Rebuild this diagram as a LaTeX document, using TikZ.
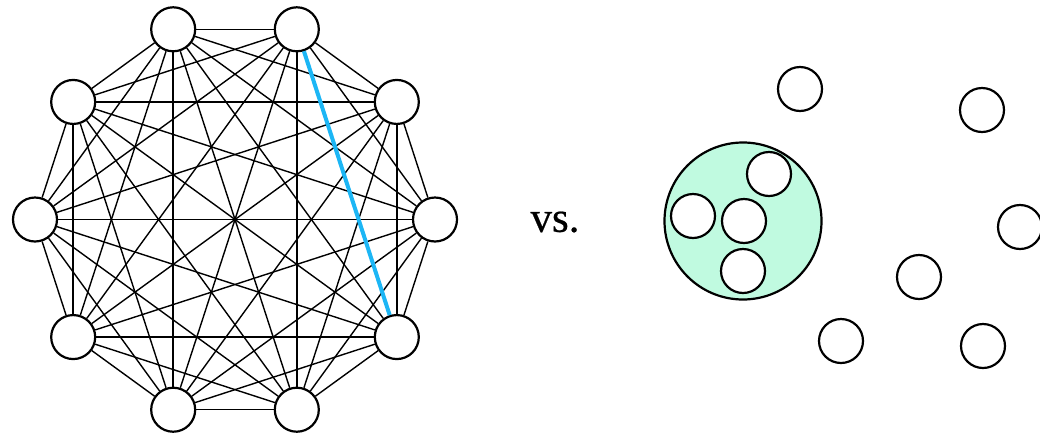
\documentclass[tikz,border=0pt]{standalone}
\usepackage{fontspec}
\setmainfont{Liberation Serif}
\newfontfamily\labelfont[FakeBold=0.5]{Liberation Serif}
\definecolor{mint}{RGB}{192,250,224}
\definecolor{hiblue}{RGB}{28,182,245}
\tikzset{
  vertex/.style={circle, draw=black, line width=2.2pt, fill=white, minimum size=44pt, inner sep=0pt},
  edge/.style={line width=1.4pt, black},
  hiedge/.style={line width=4pt, hiblue},
  cluster/.style={circle, draw=black, line width=2.2pt, fill=mint, minimum size=157pt, inner sep=0pt}
}
\begin{document}
\begin{tikzpicture}[x=1pt,y=-1pt]
  \useasboundingbox (0,0) rectangle (1040,437);

  % complete graph on ten vertices
  \foreach \k in {0,...,9}
    \node[vertex] (n\k) at ({235+200*cos(36*\k)},{219.5-200*sin(36*\k)}) {};
  \foreach \i in {0,...,8}{
    \pgfmathtruncatemacro\s{\i+1}
    \foreach \j in {\s,...,9}
      \draw[edge] (n\i) -- (n\j);
  }
  \draw[hiedge] (n2) -- (n9);

  \node (vs) at (555,222) {\labelfont\fontsize{43}{50}\selectfont vs.};

  % clustered points
  \node[cluster] (c) at (743,221) {};
  \node[vertex] (a1) at (769,174) {};
  \node[vertex] (a2) at (693,216) {};
  \node[vertex] (a3) at (744,221) {};
  \node[vertex] (a4) at (743,271) {};

  % scattered points
  \node[vertex] (b1) at (800,89) {};
  \node[vertex] (b2) at (982,110) {};
  \node[vertex] (b3) at (1020,227) {};
  \node[vertex] (b4) at (919,277) {};
  \node[vertex] (b5) at (841,341) {};
  \node[vertex] (b6) at (983,346) {};
\end{tikzpicture}
\end{document}
